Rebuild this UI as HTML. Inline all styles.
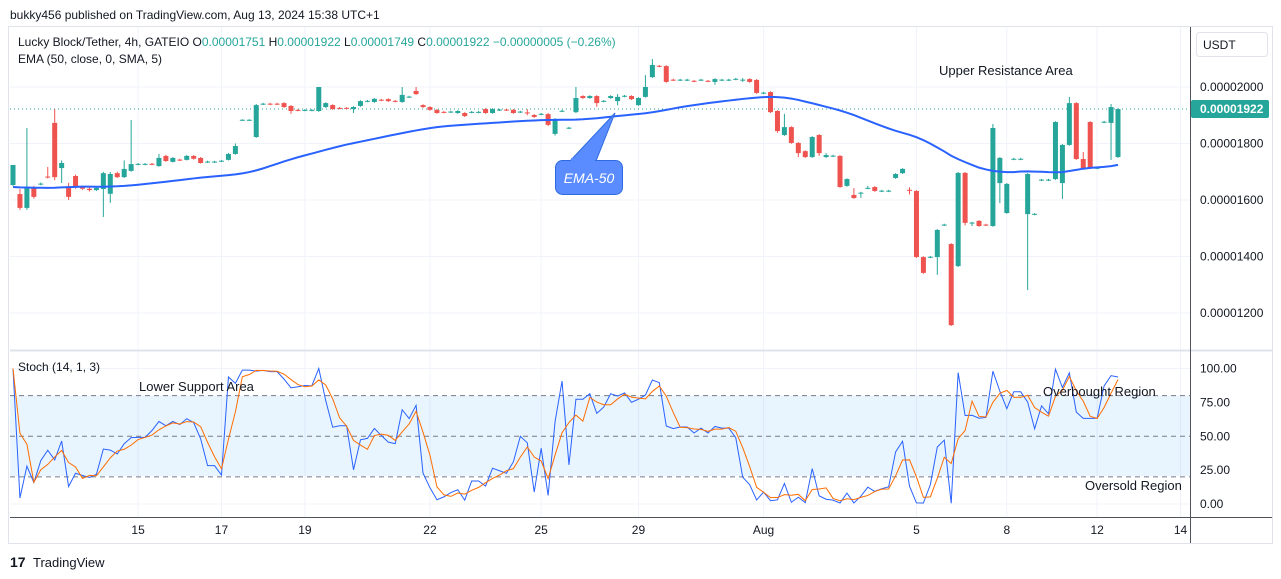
<!DOCTYPE html>
<html><head><meta charset="utf-8"><style>
body{margin:0;background:#fff;font-family:"Liberation Sans",sans-serif;}
svg{display:block}
</style></head><body>
<svg id="c" width="1281" height="579" viewBox="0 0 1281 579" xmlns="http://www.w3.org/2000/svg" font-family="Liberation Sans, sans-serif">
<rect width="1281" height="579" fill="#fff"/>
<text x="10" y="19" font-size="12" fill="#131722">bukky456 published on TradingView.com, Aug 13, 2024 15:38 UTC+1</text>
<rect x="8.5" y="26.5" width="1264" height="517" fill="none" stroke="#e0e3eb"/>
<g id="grid"></g>
<rect x="10" y="395.6" width="1180" height="80.5" fill="#2196f3" fill-opacity="0.1"/>
<g id="marks"></g>
<line x1="10" y1="350.5" x2="1272" y2="350.5" stroke="#e0e3eb" stroke-width="2"/>
<line x1="1190.5" y1="27" x2="1190.5" y2="543" stroke="#50535e" stroke-width="1"/>
<line x1="10" y1="517.5" x2="1272" y2="517.5" stroke="#50535e" stroke-width="1"/>
<text x="18" y="46" font-size="12" fill="#131722">Lucky Block/Tether, 4h, GATEIO  O<tspan fill="#26a69a">0.00001751</tspan>  H<tspan fill="#26a69a">0.00001922</tspan>  L<tspan fill="#26a69a">0.00001749</tspan>  C<tspan fill="#26a69a">0.00001922</tspan>  <tspan fill="#26a69a">−0.00000005 (−0.26%)</tspan></text>
<text x="18" y="63" font-size="12" fill="#131722">EMA (50, close, 0, SMA, 5)</text>
<text x="18" y="371" font-size="12" fill="#131722">Stoch (14, 1, 3)</text>
<rect x="1196.5" y="32.5" width="71" height="24" rx="3" fill="#fff" stroke="#e0e3eb"/>
<text x="1203" y="49" font-size="12" fill="#131722">USDT</text>
<text x="939" y="75" font-size="13" fill="#131722">Upper Resistance Area</text>
<text x="139" y="391" font-size="13" fill="#131722">Lower Support Area</text>
<text x="1043" y="396" font-size="13" fill="#131722">Overbought Region</text>
<text x="1085" y="490" font-size="13" fill="#131722">Oversold Region</text>
<g>
<path d="M570 161 L615 113 L596 161 Z" fill="#5b8cff" stroke="#2f6be0" stroke-width="1"/>
<rect x="555.5" y="160.5" width="67" height="34" rx="7" fill="#5b8cff" stroke="#2f6be0"/>
<rect x="571" y="158" width="24" height="5" fill="#5b8cff"/>
<text x="589" y="183" font-size="14" font-style="italic" fill="#fff" text-anchor="middle">EMA-50</text>
</g>
<g>
<text x="10" y="567" font-size="14" font-weight="bold" fill="#131722">17</text>
<text x="33" y="567" font-size="13" fill="#131722">TradingView</text>
</g>
</svg>
<script>
const opens=[1653,1621,1572,1646,1655,1683,1873,1713,1646,1685,1646,1640,1635,1639,1622,1695,1681,1703,1726,1726,1728,1720,1756,1735,1743,1742,1756,1749,1734,1734,1737,1742,1763,1882,1882,1823,1939,1941,1941,1943,1933,1919,1917,1917,1915,1929,1936,1926,1926,1922,1933,1949,1947,1955,1957,1951,1947,1964,1986,1936,1929,1919,1912,1911,1908,1908,1910,1910,1922,1908,1918,1920,1919,1911,1910,1901,1903,1904,1834,1914,1854,1911,1968,1961,1968,1949,1961,1950,1967,1968,1936,1965,2035,2075,2074,2026,2024,2024,2022,2024,2022,2018,2024,2024,2027,2024,2028,2025,1978,1982,1915,1830,1858,1802,1773,1752,1830,1752,1755,1756,1650,1618,1624,1641,1646,1631,1631,1678,1695,1636,1632,1398,1397,1398,1511,1444,1366,1696,1518,1526,1513,1508,1660,1554,1744,1744,1550,1549,1670,1670,1674,1660,1795,1943,1745,1876,1712,1875,1873,1752];
const closes=[1724,1572,1646,1611,1658,1680,1681,1731,1611,1646,1640,1635,1643,1695,1692,1681,1710,1727,1728,1728,1726,1749,1738,1749,1741,1756,1746,1731,1736,1736,1739,1763,1791,1884,1884,1936,1941,1939,1939,1929,1915,1917,1919,1919,2000,1943,1922,1924,1924,1929,1950,1951,1958,1953,1950,1949,1972,1966,1975,1929,1919,1908,1910,1913,1915,1897,1912,1912,1908,1922,1920,1918,1908,1913,1908,1894,1905,1866,1887,1916,1856,1961,1961,1968,1943,1951,1968,1965,1969,1957,1961,2000,2078,2073,2018,2024,2026,2026,2020,2026,2020,2028,2026,2026,2029,2026,2018,1979,1980,1911,1844,1858,1802,1766,1752,1823,1766,1759,1757,1646,1674,1607,1626,1643,1632,1633,1633,1692,1710,1634,1398,1342,1399,1494,1513,1157,1696,1519,1520,1508,1511,1855,1749,1657,1746,1746,1692,1551,1672,1672,1876,1795,1943,1745,1713,1713,1714,1877,1929,1922];
const highs=[1724,1639,1855,1650,1662,1717,1922,1740,1661,1690,1650,1645,1648,1700,1699,1700,1740,1883,1731,1731,1731,1763,1760,1752,1746,1759,1759,1752,1739,1739,1742,1766,1800,1886,1886,1940,1944,1944,1944,1946,1936,1922,1922,1922,2000,1946,1939,1929,1929,1932,1953,1954,1961,1958,1960,1954,2000,1969,2000,1939,1932,1922,1915,1916,1918,1911,1915,1915,1925,1925,1923,1923,1922,1916,1922,1904,1908,1908,1890,1919,1859,2000,1971,1971,1971,1954,1971,1975,1972,1971,1964,2042,2099,2078,2077,2029,2029,2029,2025,2029,2025,2031,2029,2029,2032,2032,2031,2028,1983,1985,1918,1905,1861,1805,1776,1826,1833,1766,1760,1759,1677,1642,1629,1650,1649,1636,1636,1695,1713,1645,1635,1401,1402,1497,1516,1447,1699,1699,1523,1529,1516,1869,1752,1660,1749,1749,1695,1554,1675,1675,1879,1798,1965,1946,1770,1879,1717,1880,1940,1925];
const lows=[1650,1565,1565,1605,1652,1676,1670,1660,1600,1640,1636,1630,1632,1540,1590,1678,1678,1700,1723,1723,1723,1718,1735,1733,1738,1740,1743,1729,1731,1731,1735,1740,1760,1880,1880,1820,1936,1936,1936,1926,1905,1914,1914,1914,1912,1926,1919,1921,1921,1908,1930,1946,1944,1950,1947,1946,1944,1961,1972,1926,1916,1905,1907,1908,1905,1894,1907,1907,1905,1905,1915,1915,1905,1908,1900,1891,1900,1862,1828,1911,1851,1908,1958,1958,1930,1946,1958,1935,1964,1954,1933,1962,2032,2070,2015,2021,2021,2021,2017,2021,2017,2008,2021,2021,2024,2018,2015,1976,1975,1908,1838,1827,1799,1752,1749,1749,1756,1749,1752,1643,1647,1604,1608,1638,1629,1628,1628,1675,1692,1620,1395,1339,1394,1335,1508,1154,1363,1510,1508,1505,1508,1505,1589,1551,1741,1741,1281,1546,1667,1667,1671,1604,1792,1742,1710,1710,1709,1872,1742,1749];
const priceTicks=[2000,1800,1600,1400,1200];
const stochTicks=[100,75,50,25,0];
const dateLabels=["15","17","19","22","25","29","Aug","5","8","12","14"];
const dateIdx=[18,30,42,60,76,90,108,130,143,156,168];

const NS="http://www.w3.org/2000/svg";
const n=opens.length;
function xOf(i){return 13+i*(1118-13)/(n-1);}
function yP(p){return 87+(2000-p)*0.2825;}
function yS(v){return 504-v*1.355;}
function mk(tag,attrs,parent){const e=document.createElementNS(NS,tag);for(const k in attrs)e.setAttribute(k,attrs[k]);parent.appendChild(e);return e;}
const grid=document.getElementById('grid'),marks=document.getElementById('marks'),svg=document.getElementById('c');

priceTicks.forEach(p=>{
  const y=yP(p);
  const l=mk('line',{x1:10,x2:1190,y1:y,y2:y,stroke:'#f0f3fa'},grid);
  
  
  const t=mk('text',{x:1200,y:y+4,'font-size':12,fill:'#131722'},svg);
  t.textContent=(p/1e8).toFixed(8);
  
  
});
stochTicks.forEach(v=>{
  const y=yS(v);
  const t=mk('text',{x:1200,y:y+4,'font-size':12,fill:'#131722'},svg);
  t.textContent=v.toFixed(2);
  
  
});
[100,0].forEach(v=>{const l=mk('line',{x1:10,x2:1190,y1:yS(v),y2:yS(v),stroke:'#f0f3fa'},grid);
  
  });
dateLabels.forEach((d,k)=>{
  const x=xOf(dateIdx[k]);
  const l=mk('line',{x1:x,x2:x,y1:27,y2:517,stroke:'#f0f3fa'},grid);
  
  
  const t=mk('text',{x:x,y:534,'font-size':12,fill:'#131722','text-anchor':'middle'},svg);
  t.textContent=d;
  
  
});
[80,50,20].forEach(v=>{const l=mk('line',{x1:10,x2:1190,y1:yS(v),y2:yS(v),stroke:'#787b86','stroke-dasharray':'5,4'},marks);
  
  });
// last price line
const lp=mk('line',{x1:10,x2:1190,y1:yP(closes[n-1]),y2:yP(closes[n-1]),stroke:'#26a69a','stroke-dasharray':'1,3'},marks);


// candles
for(let i=0;i<n;i++){
  const up=closes[i]>=opens[i],col=up?'#26a69a':'#ef5350',x=xOf(i);
  const g=mk('g',{},marks);
  
  
  mk('line',{x1:x,x2:x,y1:yP(highs[i]),y2:yP(lows[i]),stroke:col},g);
  const yt=yP(Math.max(opens[i],closes[i])),yb=yP(Math.min(opens[i],closes[i]));
  mk('rect',{x:x-2.5,y:yt,width:5,height:Math.max(1,yb-yt),fill:col},g);
}
// EMA 50 with SMA 5 smoothing
const ema=[];let e=closes[0]-78;
for(let i=0;i<n;i++){e=i===0?1646:e+(closes[i]-e)*2/51;ema.push(e);}
const emaS=ema.map((v,i)=>{let s=0,c=0;for(let j=Math.max(0,i-4);j<=i;j++){s+=ema[j];c++;}return s/c;});
const ep=mk('polyline',{points:emaS.map((v,i)=>xOf(i)+','+yP(v)).join(' '),fill:'none',stroke:'#2962ff','stroke-width':2},marks);


// Stochastic
const K=[];
for(let i=0;i<n;i++){let hh=-1e9,ll=1e9;for(let j=Math.max(0,i-13);j<=i;j++){hh=Math.max(hh,highs[j]);ll=Math.min(ll,lows[j]);}K.push(hh>ll?100*(closes[i]-ll)/(hh-ll):50);}
const D=K.map((v,i)=>{let s=0,c=0;for(let j=Math.max(0,i-2);j<=i;j++){s+=K[j];c++;}return s/c;});
const kl=mk('polyline',{points:K.map((v,i)=>xOf(i)+','+yS(v)).join(' '),fill:'none',stroke:'#2962ff','stroke-width':1},marks);


const dl=mk('polyline',{points:D.map((v,i)=>xOf(i)+','+yS(v)).join(' '),fill:'none',stroke:'#ff6d00','stroke-width':1},marks);


// last price label
const yl=yP(closes[n-1]);
const pr=mk('rect',{x:1191,y:yl-9,width:78,height:18,rx:2,fill:'#26a69a'},svg);


const pt=mk('text',{x:1200,y:yl+4,'font-size':12,'font-weight':'bold',fill:'#fff'},svg);
pt.textContent=(closes[n-1]/1e8).toFixed(8);
</script>
</body></html>
